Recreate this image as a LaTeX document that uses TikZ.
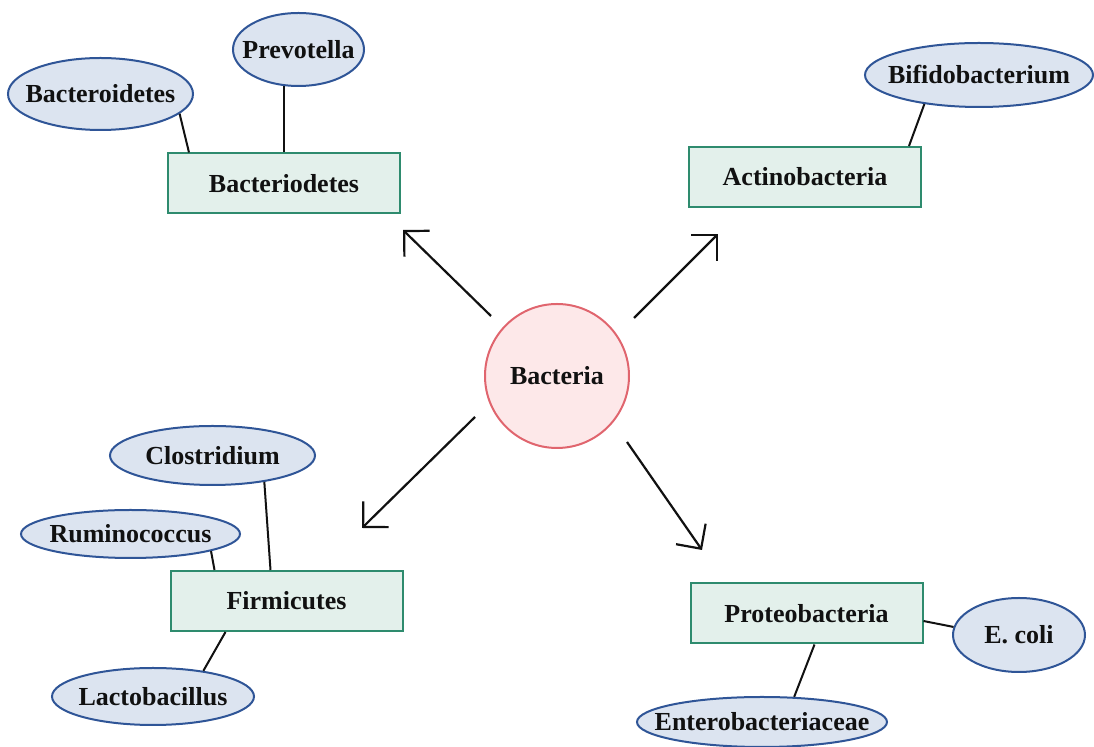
\documentclass[tikz,border=0pt]{standalone}
\usepackage{fontspec}
\setmainfont{Liberation Serif}
\usetikzlibrary{arrows.meta, positioning, shapes.geometric}
\definecolor{ink}{HTML}{111111}
\definecolor{hubline}{HTML}{E0656E}
\definecolor{hubsoft}{HTML}{FDE8E9}
\definecolor{phyline}{HTML}{2E8B6E}
\definecolor{physoft}{HTML}{E3F0EB}
\definecolor{genline}{HTML}{2F5597}
\definecolor{gensoft}{HTML}{DCE4F0}
\newcommand{\gname}[1]{\makebox[0pt]{#1}}
\tikzset{
  font=\fontsize{13}{15}\selectfont\bfseries,
  >={Straight Barb[length=9pt, width=18pt]},
  %
  hub/.style={circle, draw=hubline, fill=hubsoft, line width=1pt,
              minimum size=72pt, inner sep=0pt, text=ink},
  phylum/.style={rectangle, draw=phyline, fill=physoft, line width=1pt,
                 minimum width=116pt, minimum height=30pt, inner sep=0pt,
                 text=ink},
  genus/.style={ellipse, draw=genline, fill=gensoft, line width=1pt,
                inner sep=0pt, text=ink},
  %
  flow/.style={draw=ink, line width=1.1pt, ->},
  link/.style={draw=ink, line width=1pt},
}

\begin{document}
\begin{tikzpicture}[x=0.5pt, y=-0.5pt]

\useasboundingbox (0,0) rectangle (1094,747);

% ----------------------------------------------------------------- centre
\node[hub] (bac) at (557,376) {Bacteria};

% ---------------------------------------------------------------- phyla
\node[phylum] (bact) at (284,183.5) {Bacteriodetes};
\node[phylum] (act)  at (805,177)   {Actinobacteria};
\node[phylum] (fir)  at (286.5,601) {Firmicutes};
\node[phylum] (pro)  at (806.5,613.5) {Proteobacteria};

% ---------------------------------------------------------------- genera
\node[genus, minimum width=92.5pt, minimum height=36pt] (bcd) at (100.5,94) {\gname{Bacteroidetes}};
\node[genus, minimum width=65.5pt, minimum height=36.5pt] (prv) at (298.5,49.5) {\gname{Prevotella}};
\node[genus, minimum width=114pt, minimum height=32pt] (bif) at (979,75) {\gname{Bifidobacterium}};
\node[genus, minimum width=102.5pt, minimum height=29.5pt] (cls) at (212.5,455.5) {\gname{Clostridium}};
\node[genus, minimum width=109.5pt, minimum height=24pt] (rum) at (130.5,534) {\gname{Ruminococcus}};
\node[genus, minimum width=101pt, minimum height=28.5pt] (lac) at (153,696.5) {\gname{Lactobacillus}};
\node[genus, minimum width=66pt, minimum height=37pt] (eco) at (1019,635) {\gname{E. coli}};
\node[genus, minimum width=125pt, minimum height=25pt] (ent) at (762,722) {\gname{Enterobacteriaceae}};

% ---------------------------------------------------------------- arrows
\coordinate (nw0) at (491,316); \coordinate (nw1) at (403,230);
\coordinate (ne0) at (634,318); \coordinate (ne1) at (718,234);
\coordinate (sw0) at (475,417); \coordinate (sw1) at (362,528);
\coordinate (se0) at (627,442); \coordinate (se1) at (702,550);

\draw[flow] (nw0) -- (nw1);
\draw[flow] (ne0) -- (ne1);
\draw[flow] (sw0) -- (sw1);
\draw[flow] (se0) -- (se1);

% ----------------------------------------------------------------- links
\draw[link] (bcd.-14) -- ([xshift=11pt]bact.north west);
\draw[link] (prv.-112) -- (prv.-112 |- bact.north);
\draw[link] (bif.-152) -- ([xshift=-6.5pt]act.north east);
\draw[link] (cls.-27) -- ([xshift=50.5pt]fir.north west);
\draw[link] (rum.-12) -- ([xshift=22.5pt]fir.north west);
\draw[link] (lac.27) -- ([xshift=28pt]fir.south west);
\draw[link] (eco.173) -- ([yshift=-3.75pt]pro.east);
\draw[link] (ent.38) -- ([xshift=62.5pt]pro.south west);

\end{tikzpicture}
\end{document}
